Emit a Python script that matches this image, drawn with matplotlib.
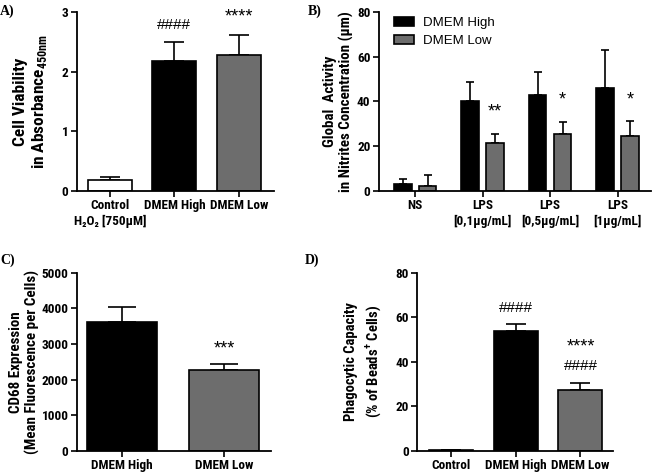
import numpy as np
import matplotlib.pyplot as plt

plt.rcParams['font.family'] = ['Roboto Condensed', 'Liberation Sans', 'DejaVu Sans']
plt.rcParams['font.weight'] = 'bold'
plt.rcParams['axes.linewidth'] = 1.3
plt.rcParams['mathtext.fontset'] = 'custom'
plt.rcParams['mathtext.rm'] = 'Roboto Condensed:bold'
plt.rcParams['mathtext.bf'] = 'Roboto Condensed:bold'

# Dane
kat_a = ["Control\nH₂O₂ [750µM]", "DMEM High", "DMEM Low"]
wart_a = [0.18, 2.18, 2.28]
err_a = [0.06, 0.32, 0.34]
znaki_a = ["", "####", "****"]

kat_b = ["NS", "LPS\n[0,1µg/mL]", "LPS\n[0,5µg/mL]", "LPS\n[1µg/mL]"]
high_b = [3.0, 40.2, 43.0, 46.0]
high_err_b = [2.5, 8.3, 10.0, 16.8]
low_b = [2.3, 21.5, 25.3, 24.8]
low_err_b = [4.7, 4.0, 5.7, 6.7]
znaki_b = ["", "**", "*", "*"]

kat_c = ["DMEM High", "DMEM Low"]
wart_c = [3620, 2270]
err_c = [430, 170]
znaki_c = ["", "***"]

kat_d = ["Control", "DMEM High", "DMEM Low"]
wart_d = [0.3, 54.0, 27.3]
err_d = [0.0, 3.0, 3.4]

BIALY = 'white'
CZARNY = 'black'
SZARY = '#6d6d6d'


def styl(ax):
    ax.spines['top'].set_visible(False)
    ax.spines['right'].set_visible(False)
    ax.tick_params(direction='out', width=1.2, length=4, labelsize=9.5, pad=2)
    for t in ax.get_xticklabels() + ax.get_yticklabels():
        t.set_fontweight('bold')


def slupki(ax, x, wart, err, kolory, szer, cap):
    ax.bar(x, wart, szer, color=kolory, edgecolor='black', linewidth=1.2, zorder=2)
    ax.errorbar(x, wart, yerr=[np.zeros(len(err)), err], fmt='none', ecolor='black',
                elinewidth=1.2, capsize=cap, capthick=1.2, zorder=1)


def znak(ax, x, y, s):
    rozm = 13 if '*' in s else 11
    ax.text(x, y, s, ha='center', va='center', fontsize=rozm, fontweight='normal',
            family='Liberation Sans')


fig = plt.figure(figsize=(6.52, 4.73), dpi=100)

# A
axA = fig.add_axes([0.118, 0.596, 0.302, 0.379])
xa = np.arange(len(kat_a))
slupki(axA, xa, wart_a, err_a, [BIALY, CZARNY, SZARY], 0.68, 7.5)
axA.set_xlim(-0.51, 2.54)
axA.set_ylim(0, 3)
axA.set_yticks([0, 1, 2, 3])
axA.set_xticks(xa)
axA.set_xticklabels(kat_a)
axA.set_ylabel("Cell Viability\nin Absorbance$_{\\mathregular{450nm}}$", fontsize=12.5, fontweight='bold', labelpad=9)
poz = [0, 2.78, 2.92]
for i, s in enumerate(znaki_a):
    if s:
        znak(axA, xa[i], poz[i], s)
styl(axA)

# B
axB = fig.add_axes([0.581, 0.596, 0.417, 0.379])
xb = np.arange(len(kat_b))
axB.bar(xb - 0.185, high_b, 0.26, color=CZARNY, edgecolor='black', linewidth=1.2, zorder=2, label='DMEM High')
axB.errorbar(xb - 0.185, high_b, yerr=[np.zeros(4), high_err_b], fmt='none', ecolor='black',
             elinewidth=1.2, capsize=3, capthick=1.2, zorder=1)
axB.bar(xb + 0.185, low_b, 0.26, color=SZARY, edgecolor='black', linewidth=1.2, zorder=2, label='DMEM Low')
axB.errorbar(xb + 0.185, low_b, yerr=[np.zeros(4), low_err_b], fmt='none', ecolor='black',
             elinewidth=1.2, capsize=3, capthick=1.2, zorder=1)
axB.set_xlim(-0.54, 3.49)
axB.set_ylim(0, 80)
axB.set_yticks([0, 20, 40, 60, 80])
axB.set_xticks(xb)
axB.set_xticklabels(kat_b)
axB.set_ylabel("Global  Activity\nin Nitrites Concentration (µm)", fontsize=10.8, fontweight='bold', labelpad=2)
poz_b = [0, 35.5, 40.5, 40.5]
for i, s in enumerate(znaki_b):
    if s:
        znak(axB, xb[i] + 0.185, poz_b[i], s)
axB.legend(loc='upper left', frameon=False, handlelength=1.5, handleheight=0.7, handletextpad=0.7,
           borderaxespad=0, borderpad=0, labelspacing=0.4,
           bbox_to_anchor=(0.055, 0.97), prop={'family': 'Liberation Sans', 'weight': 'normal', 'size': 9.5})
styl(axB)

# C
axC = fig.add_axes([0.118, 0.0465, 0.298, 0.377])
xc = np.arange(len(kat_c))
slupki(axC, xc, wart_c, err_c, [CZARNY, SZARY], 0.68, 10)
axC.set_xlim(-0.44, 1.46)
axC.set_ylim(0, 5000)
axC.set_yticks([0, 1000, 2000, 3000, 4000, 5000])
axC.set_xticks(xc)
axC.set_xticklabels(kat_c)
axC.set_ylabel("CD68 Expression\n(Mean Fluorescence per Cells)", fontsize=10.8, fontweight='bold', labelpad=1)
znak(axC, xc[1], 2870, znaki_c[1])
styl(axC)

# D
axD = fig.add_axes([0.640, 0.0465, 0.300, 0.377])
xd = np.arange(len(kat_d))
slupki(axD, xd, wart_d, err_d, [BIALY, CZARNY, SZARY], 0.68, 7.5)
axD.set_xlim(-0.515, 2.5)
axD.set_ylim(0, 80)
axD.set_yticks([0, 20, 40, 60, 80])
axD.set_xticks(xd)
axD.set_xticklabels(kat_d)
axD.set_ylabel("Phagocytic Capacity\n(% of Beads$^{\\mathregular{+}}$ Cells)", fontsize=10.5, fontweight='bold',
               labelpad=8, linespacing=1.4)
for x, y, s in [(xd[1], 64, "####"), (xd[2], 46.5, "****"), (xd[2], 38, "####")]:
    znak(axD, x, y, s)
styl(axD)

# Etykiety paneli
for lit, x, y in [("A)", 0.0, 0.99), ("B)", 0.472, 0.99), ("C)", 0.0, 0.465), ("D)", 0.468, 0.463)]:
    fig.text(x, y, lit, family='Liberation Serif', fontweight='bold', fontsize=10, va='top')

fig.savefig("out.png", dpi=100)
